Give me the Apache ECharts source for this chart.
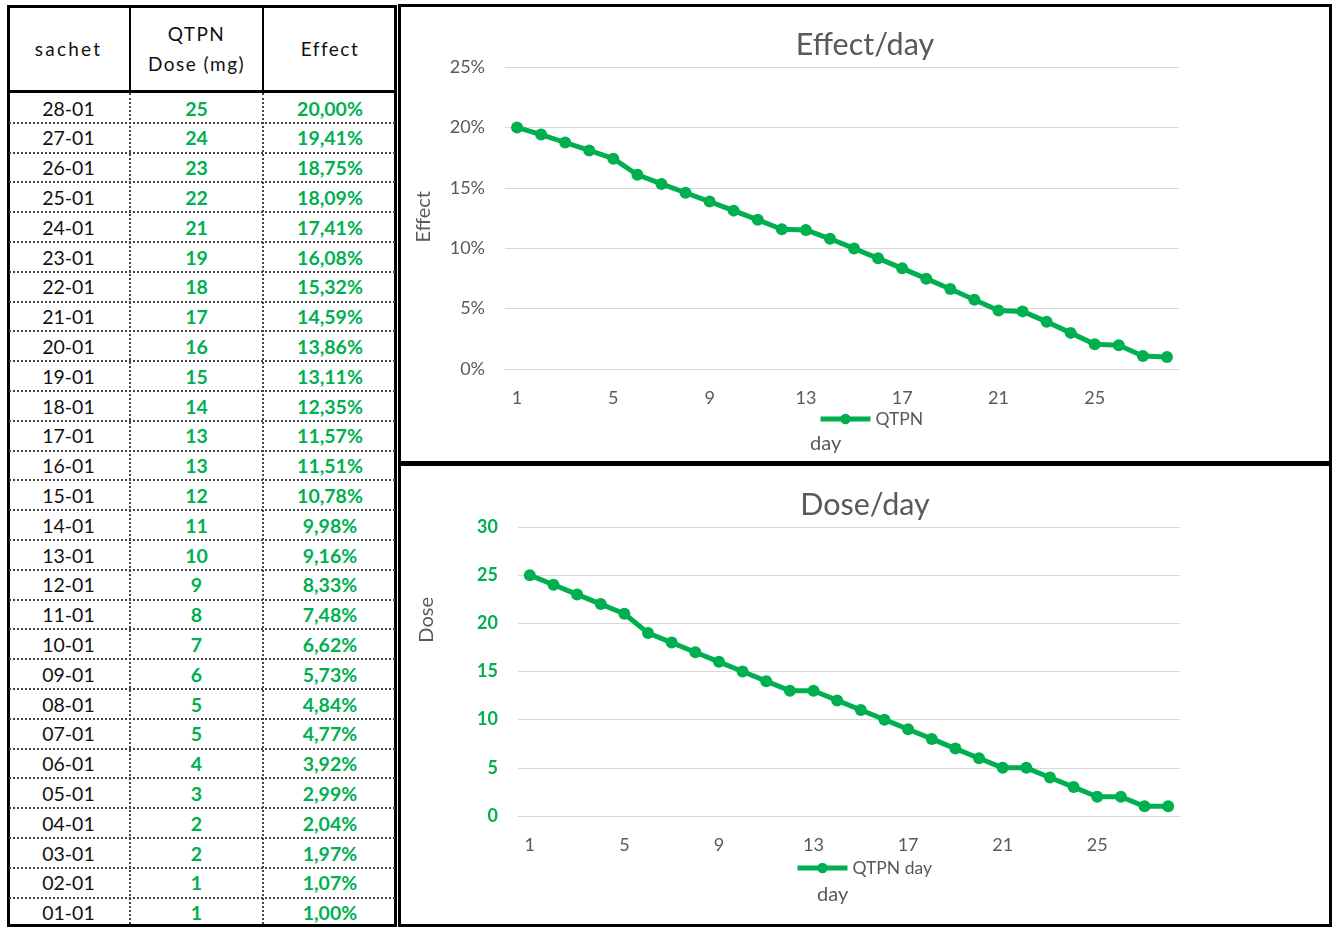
<!DOCTYPE html>
<html>
<head>
<meta charset="utf-8">
<script src="https://cdn.jsdelivr.net/npm/echarts@6/dist/echarts.min.js"></script>
<style>
  html, body { margin: 0; padding: 0; background: #fff; width: 1338px; height: 928px; overflow: hidden; }
  #tbl { position: absolute; left: 0; top: 0; width: 400px; height: 928px; font-family: Lato, "Noto Sans", sans-serif; }
  .cell { position: absolute; text-align: center; white-space: nowrap; }
  .hd { font-size: 19px; color: #111; letter-spacing: 1.5px; }
  .dt { font-size: 19.5px; color: #111; }
  .gr { font-size: 19.5px; color: #00B050; font-weight: bold; }
  .hl { position: absolute; height: 0; border-top: 2px dotted #444; }
  .vl { position: absolute; width: 0; border-left: 2px dotted #444; }
  .sv { position: absolute; width: 2px; background: #000; }
  .box { position: absolute; border: 3px solid #000; background: #fff; }
  #outer { position: absolute; left: 7px; top: 5px; width: 384px; height: 916px; border: 3px solid #000; }
  #c1 { left: 398px; top: 4px; width: 928px; height: 454px; }
  #c2 { left: 398px; top: 463px; width: 928px; height: 458px; }
</style>
</head>
<body>
<div id="tbl"></div>
<div id="c1" class="box"></div>
<div id="c2" class="box"></div>
<script>
// ---- data ----
var headers = ["sachet", "QTPN<br>Dose (mg)", "Effect"];
var sachets = ["28-01","27-01","26-01","25-01","24-01","23-01","22-01","21-01","20-01","19-01","18-01","17-01","16-01","15-01","14-01","13-01","12-01","11-01","10-01","09-01","08-01","07-01","06-01","05-01","04-01","03-01","02-01","01-01"];
var doses = [25,24,23,22,21,19,18,17,16,15,14,13,13,12,11,10,9,8,7,6,5,5,4,3,2,2,1,1];
var effects = [20.00,19.41,18.75,18.09,17.41,16.08,15.32,14.59,13.86,13.11,12.35,11.57,11.51,10.78,9.98,9.16,8.33,7.48,6.62,5.73,4.84,4.77,3.92,2.99,2.04,1.97,1.07,1.00];
var days = ["1","2","3","4","5","6","7","8","9","10","11","12","13","14","15","16","17","18","19","20","21","22","23","24","25","26","27","28"];

// ---- table (HTML) ----
(function () {
  var colX = [7, 130, 263, 397];
  var headBot = 93, rowH = 29.8;
  var t = document.getElementById('tbl');
  var h = '<div id="outer"></div>';
  for (var c = 0; c < 3; c++) {
    var isTwo = headers[c].indexOf('<br>') >= 0;
    h += '<div class="cell hd" style="left:' + colX[c] + 'px;width:' + (colX[c + 1] - colX[c]) + 'px;top:' +
      (isTwo ? 19 : 34) + 'px;line-height:30px;' + (c === 0 ? 'letter-spacing:2.2px;' : '') + '">' + headers[c] + '</div>';
  }
  h += '<div class="sv" style="left:129px;top:5px;height:88px"></div>';
  h += '<div class="sv" style="left:262px;top:5px;height:88px"></div>';
  h += '<div style="position:absolute;left:7px;top:90px;width:390px;height:3px;background:#000"></div>';
  for (var i = 0; i < sachets.length; i++) {
    var rowTop = headBot + i * rowH;
    var vals = [sachets[i], String(doses[i]), effects[i].toFixed(2).replace('.', ',') + '%'];
    for (var k = 0; k < 3; k++) {
      h += '<div class="cell ' + (k === 0 ? 'dt' : 'gr') + '" style="left:' + colX[k] + 'px;width:' +
        (colX[k + 1] - colX[k]) + 'px;top:' + (rowTop + 0.5) + 'px;height:' + rowH + 'px;line-height:' + rowH + 'px;">' + vals[k] + '</div>';
    }
    if (i > 0) h += '<div class="hl" style="left:9px;width:386px;top:' + (rowTop - 1) + 'px"></div>';
  }
  h += '<div class="vl" style="left:129px;top:93px;height:831px"></div>';
  h += '<div class="vl" style="left:262px;top:93px;height:831px"></div>';
  t.innerHTML = h;
})();

var GREEN = '#00B050', GRAY = '#595959', GRID = '#D9D9D9';
var FONT = 'Lato, "Noto Sans", sans-serif';

function makeOption(cfg) {
  return {
    animation: false,
    textStyle: { fontFamily: FONT },
    title: { text: cfg.title, left: 'center', top: cfg.titleTop, textStyle: { fontFamily: FONT, fontSize: 30.5, fontWeight: 'normal', color: GRAY } },
    legend: {
      left: cfg.legendLeft, top: cfg.legendTop, itemWidth: 50, itemHeight: 13, itemGap: 4,
      lineStyle: { width: 5 },
      textStyle: { fontFamily: FONT, fontSize: 17.5, color: GRAY, padding: [0, 0, 0, 0] },
      data: [cfg.seriesName]
    },
    grid: cfg.grid,
    xAxis: {
      type: 'category', data: days, boundaryGap: true,
      axisLine: { lineStyle: { color: GRID, width: 1 } },
      axisTick: { show: false },
      axisLabel: { interval: 3, color: GRAY, fontSize: 18, margin: cfg.xLabelMargin, fontFamily: FONT }
    },
    yAxis: {
      type: 'value', min: 0, max: cfg.max, interval: 5,
      axisLine: { show: false }, axisTick: { show: false },
      splitLine: { lineStyle: { color: GRID, width: 1 } },
      axisLabel: cfg.yLabel
    },
    graphic: [
      { type: 'text', left: cfg.yNamePos[0], top: cfg.yNamePos[1], rotation: Math.PI / 2,
        style: { text: cfg.yName, fontSize: 20, fill: GRAY, fontFamily: FONT, align: 'center', verticalAlign: 'middle' } },
      { type: 'text', left: cfg.xNamePos[0], top: cfg.xNamePos[1],
        style: { text: 'day', fontSize: 20, fill: GRAY, fontFamily: FONT } }
    ],
    series: [{
      name: cfg.seriesName, type: 'line', data: cfg.data,
      symbol: 'circle', symbolSize: 12,
      lineStyle: { color: GREEN, width: 5 },
      itemStyle: { color: GREEN }
    }]
  };
}

var chart1 = echarts.init(document.getElementById('c1'), null, { renderer: 'canvas' });
chart1.setOption(makeOption({
  title: 'Effect/day', titleTop: 18,
  seriesName: 'QTPN', legendLeft: 412, legendTop: 398,
  grid: { left: 104, right: 150, top: 60, bottom: 92 },
  max: 25, data: effects, xLabelMargin: 20,
  yLabel: { formatter: '{value}%', color: GRAY, fontSize: 18, margin: 20, fontFamily: FONT },
  yName: 'Effect', yNamePos: [13, 184],
  xNamePos: [409, 427]
}));

var chart2 = echarts.init(document.getElementById('c2'), null, { renderer: 'canvas' });
chart2.setOption(makeOption({
  title: 'Dose/day', titleTop: 19,
  seriesName: 'QTPN day', legendLeft: 389, legendTop: 388,
  grid: { left: 117, right: 149, top: 61, bottom: 108 },
  max: 30, data: doses, xLabelMargin: 20,
  yLabel: { color: GREEN, fontSize: 18, fontWeight: 'bold', margin: 20, fontFamily: FONT },
  yName: 'Dose', yNamePos: [16, 131],
  xNamePos: [416, 419]
}));
</script>
</body>
</html>
